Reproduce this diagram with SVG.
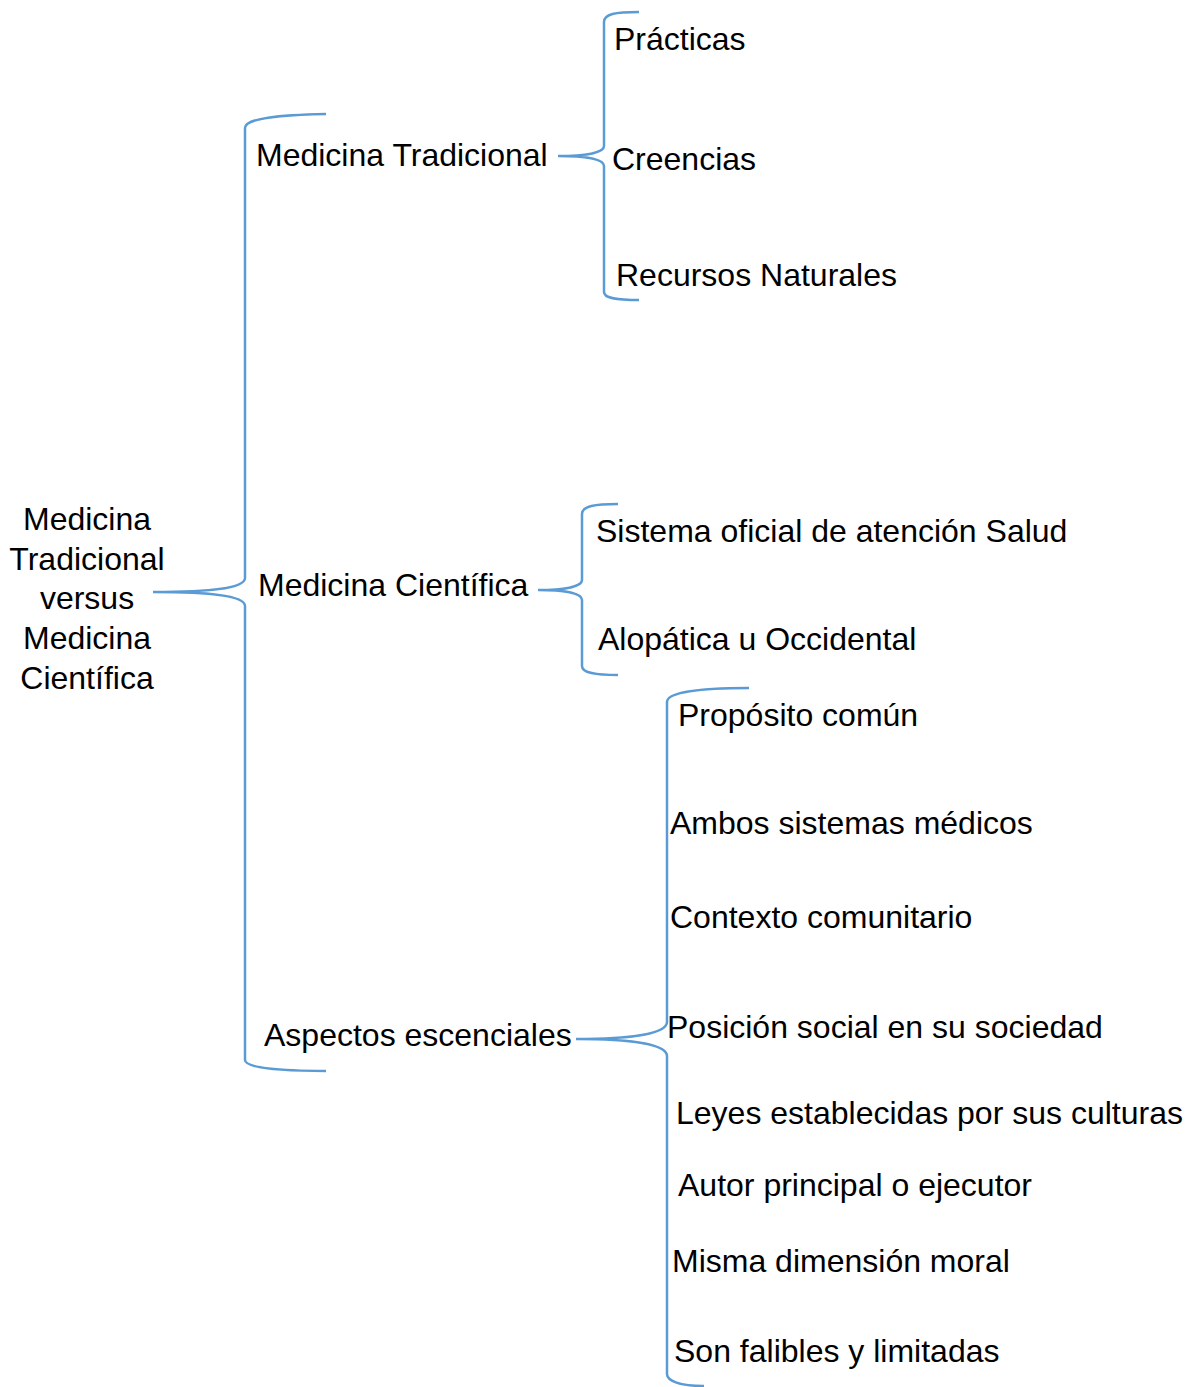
<svg xmlns="http://www.w3.org/2000/svg" width="1187" height="1387" viewBox="0 0 1187 1387">
<style>
.t{font-family:"Liberation Sans",Arial,sans-serif;font-size:32px;fill:#000}
.b{fill:none;stroke:#5B9BD5;stroke-width:2.5}
</style>
<rect width="1187" height="1387" fill="#fff"/>
<g id="connectors">
<path class="b" d="M326,114 C280,115 245,118 245,128 L245,578 C245,589 205,592 153,592 C205,592 245,595 245,606 L245,1060 C245,1068 280,1071 326,1071"/>
<path class="b" d="M639,12 C615,12 604,14 604,22 L604,146 C604,153 585,156 558,156 C585,156 604,159 604,166 L604,292 C604,298 615,300 639,300"/>
<path class="b" d="M618,504 C595,504 582,506 582,514 L582,580 C582,587 563,590 538,590 C563,590 582,593 582,600 L582,666 C582,673 595,675 618,675"/>
<path class="b" d="M749,688 C700,688 667,692 667,702 L667,1022 C667,1034 630,1039 576,1039 C630,1039 667,1044 667,1056 L667,1374 C667,1381 680,1386 704,1386"/>
</g>
<g id="root"><text class="t" text-anchor="middle" x="87" y="530">Medicina</text><text class="t" text-anchor="middle" x="87" y="570">Tradicional</text><text class="t" text-anchor="middle" x="87" y="609">versus</text><text class="t" text-anchor="middle" x="87" y="649">Medicina</text><text class="t" text-anchor="middle" x="87" y="689">Científica</text></g>
<g id="n-tradicional"><text class="t" x="256" y="166">Medicina Tradicional</text></g>
<g id="n-practicas"><text class="t" x="614" y="50">Prácticas</text></g>
<g id="n-creencias"><text class="t" x="612" y="170">Creencias</text></g>
<g id="n-recursos"><text class="t" x="616" y="286">Recursos Naturales</text></g>
<g id="n-cientifica"><text class="t" x="258" y="596">Medicina Científica</text></g>
<g id="n-sistema"><text class="t" x="596" y="542">Sistema oficial de atención Salud</text></g>
<g id="n-alopatica"><text class="t" x="598" y="650">Alopática u Occidental</text></g>
<g id="n-aspectos"><text class="t" x="264" y="1046">Aspectos escenciales</text></g>
<g id="n-proposito"><text class="t" x="678" y="726">Propósito común</text></g>
<g id="n-ambos"><text class="t" x="670" y="834">Ambos sistemas médicos</text></g>
<g id="n-contexto"><text class="t" x="670" y="928">Contexto comunitario</text></g>
<g id="n-posicion"><text class="t" x="667" y="1038">Posición social en su sociedad</text></g>
<g id="n-leyes"><text class="t" x="676" y="1124">Leyes establecidas por sus culturas</text></g>
<g id="n-autor"><text class="t" x="678" y="1196">Autor principal o ejecutor</text></g>
<g id="n-misma"><text class="t" x="672" y="1272">Misma dimensión moral</text></g>
<g id="n-son"><text class="t" x="674" y="1362">Son falibles y limitadas</text></g>
</svg>
